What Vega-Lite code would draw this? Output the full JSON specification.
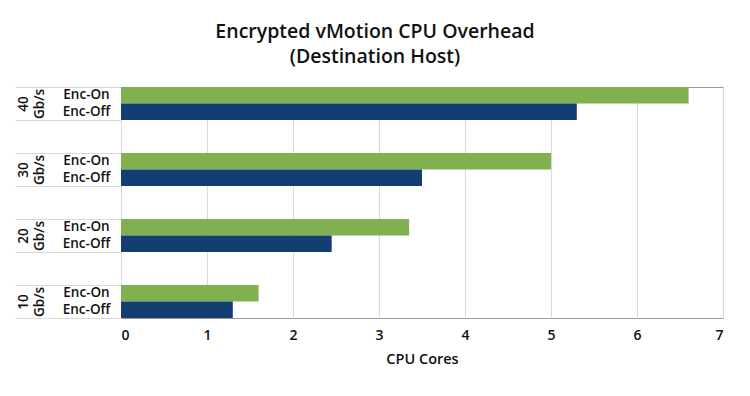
{
  "$schema": "https://vega.github.io/schema/vega-lite/v6.json",
  "width": 602,
  "height": 231,
  "autosize": {"type": "none"},
  "padding": {"left": 121, "top": 87, "right": 27, "bottom": 78},
  "background": "white",
  "title": {
    "text": ["Encrypted vMotion CPU Overhead", "(Destination Host)"],
    "fontSize": 19.5,
    "fontWeight": 600,
    "font": "Open Sans",
    "color": "#111111",
    "anchor": "middle",
    "frame": "group",
    "dx": -47,
    "offset": 19,
    "lineHeight": 25
  },
  "data": {
    "values": [
      {"group": "40", "enc": "Enc-On", "slot": "40 Enc-On", "value": 6.6},
      {"group": "40", "enc": "Enc-Off", "slot": "40 Enc-Off", "value": 5.3},
      {"group": "30", "enc": "Enc-On", "slot": "30 Enc-On", "value": 5.0},
      {"group": "30", "enc": "Enc-Off", "slot": "30 Enc-Off", "value": 3.5},
      {"group": "20", "enc": "Enc-On", "slot": "20 Enc-On", "value": 3.35},
      {"group": "20", "enc": "Enc-Off", "slot": "20 Enc-Off", "value": 2.45},
      {"group": "10", "enc": "Enc-On", "slot": "10 Enc-On", "value": 1.6},
      {"group": "10", "enc": "Enc-Off", "slot": "10 Enc-Off", "value": 1.3}
    ]
  },
  "layer": [
    {
      "mark": {"type": "bar"},
      "encoding": {
        "y": {
          "field": "slot",
          "type": "nominal",
          "scale": {
            "domain": ["40 Enc-On", "40 Enc-Off", "g1a", "g1b", "30 Enc-On", "30 Enc-Off", "g2a", "g2b", "20 Enc-On", "20 Enc-Off", "g3a", "g3b", "10 Enc-On", "10 Enc-Off"],
            "paddingInner": 0,
            "paddingOuter": 0
          },
          "axis": {
            "orient": "left",
            "title": null,
            "domain": false,
            "ticks": false,
            "tickSize": 0,
            "labelPadding": 35,
            "labelAlign": "center",
            "labelBaseline": "middle",
            "labelFontSize": 13.5,
            "labelFontWeight": 600,
            "labelColor": "#111111",
            "labelExpr": "indexof(datum.value, ' ') > 0 ? split(datum.value, ' ')[1] : ''"
          }
        },
        "x": {
          "field": "value",
          "type": "quantitative",
          "scale": {"domain": [0, 7], "nice": false},
          "axis": {
            "title": "CPU Cores",
            "values": [0, 1, 2, 3, 4, 5, 6, 7],
            "grid": true,
            "gridColor": "#d9d9d9",
            "ticks": false,
            "domain": false,
            "labelFontSize": 14,
            "labelFontWeight": 600,
            "labelColor": "#111111",
            "labelPadding": 10,
            "titleFontSize": 14.5,
            "titleFontWeight": 600,
            "titleColor": "#111111",
            "titlePadding": 10
          }
        },
        "color": {
          "field": "enc",
          "type": "nominal",
          "scale": {"domain": ["Enc-On", "Enc-Off"], "range": ["#81b14f", "#143d72"]},
          "legend": null
        }
      }
    },
    {
      "mark": {"type": "text"},
      "encoding": {
        "y": {
          "field": "group",
          "type": "nominal",
          "scale": {"domain": ["40", "g1", "30", "g2", "20", "g3", "10"], "paddingInner": 0, "paddingOuter": 0},
          "axis": {
            "orient": "left",
            "title": null,
            "domain": false,
            "labels": false,
            "ticks": true,
            "tickBand": "extent",
            "tickSize": 106,
            "tickColor": "#d9d9d9",
            "tickWidth": 1
          }
        },
        "text": {"value": ""}
      }
    },
    {
      "mark": {"type": "text"},
      "encoding": {
        "y": {
          "field": "group",
          "type": "nominal",
          "scale": {"domain": ["40", "g1", "30", "g2", "20", "g3", "10"], "paddingInner": 0, "paddingOuter": 0},
          "axis": {
            "orient": "left",
            "title": null,
            "domain": false,
            "ticks": false,
            "tickSize": 0,
            "labelPadding": 98,
            "labelAngle": 270,
            "labelAlign": "center",
            "labelBaseline": "middle",
            "labelFontSize": 13.5,
            "labelFontWeight": 600,
            "labelColor": "#111111",
            "labelExpr": "indexof(['g1','g2','g3'], datum.value) >= 0 ? '' : datum.value"
          }
        },
        "text": {"value": ""}
      }
    },
    {
      "mark": {"type": "text"},
      "encoding": {
        "y": {
          "field": "group",
          "type": "nominal",
          "scale": {"domain": ["40", "g1", "30", "g2", "20", "g3", "10"], "paddingInner": 0, "paddingOuter": 0},
          "axis": {
            "orient": "left",
            "title": null,
            "domain": false,
            "ticks": false,
            "tickSize": 0,
            "labelPadding": 82,
            "labelAngle": 270,
            "labelAlign": "center",
            "labelBaseline": "middle",
            "labelFontSize": 13.5,
            "labelFontWeight": 600,
            "labelColor": "#111111",
            "labelExpr": "indexof(['g1','g2','g3'], datum.value) >= 0 ? '' : 'Gb/s'"
          }
        },
        "text": {"value": ""}
      }
    }
  ],
  "resolve": {"scale": {"y": "independent"}, "axis": {"y": "independent"}},
  "config": {
    "font": "Open Sans",
    "view": {"stroke": "#999999", "strokeWidth": 1}
  }
}
